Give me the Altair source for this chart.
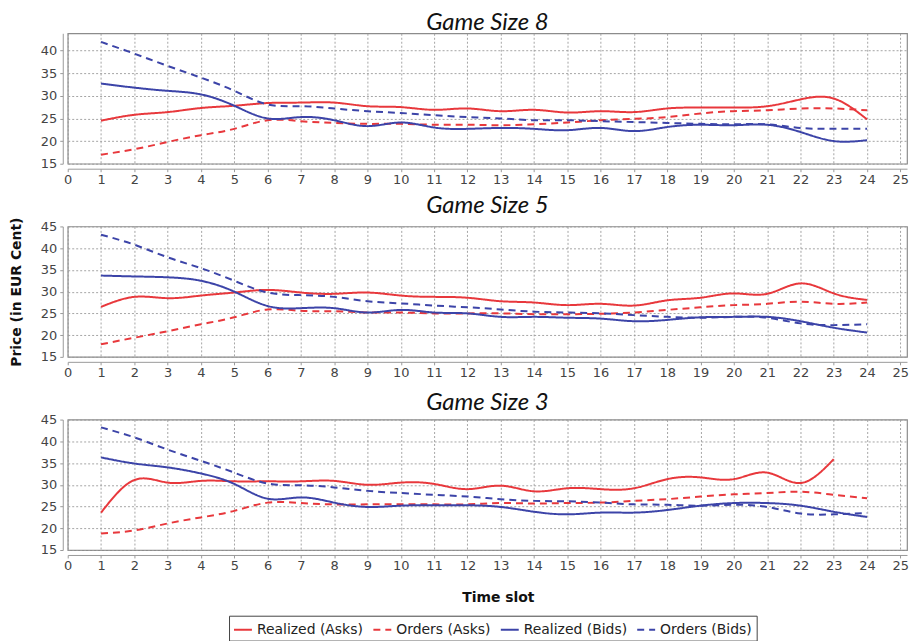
import altair as alt
import pandas as pd

time_slots = list(range(1, 25))
series_names = ["Realized (Asks)", "Orders (Asks)", "Realized (Bids)", "Orders (Bids)"]
panel_titles = ["Game Size 8", "Game Size 5", "Game Size 3"]

# Game Size 8
gs8_realized_asks = [24.5, 25.8, 26.4, 27.3, 27.8, 28.4, 28.5, 28.5, 27.7, 27.5, 26.9, 27.2,
                     26.6, 26.9, 26.3, 26.6, 26.4, 27.2, 27.4, 27.4, 27.7, 29.2, 29.4, 24.8]
gs8_orders_asks = [17.0, 18.2, 19.8, 21.3, 22.7, 24.6, 24.4, 24.0, 23.8, 23.8, 23.6, 23.6,
                   23.5, 23.7, 24.1, 24.6, 24.9, 25.3, 26.1, 26.6, 26.8, 27.2, 27.2, 26.8]
gs8_realized_bids = [32.7, 31.8, 31.1, 30.3, 27.8, 25.0, 25.3, 24.6, 23.3, 24.1, 23.0, 22.7,
                     22.9, 22.7, 22.4, 22.9, 22.2, 23.1, 23.6, 23.5, 23.6, 22.0, 20.0, 20.2]
gs8_orders_bids = [41.9, 39.3, 36.6, 34.0, 31.1, 28.1, 27.7, 27.2, 26.6, 26.2, 25.7, 25.3,
                   25.0, 24.6, 24.6, 24.4, 24.2, 24.0, 23.8, 23.7, 23.7, 22.9, 22.7, 22.7]

# Game Size 5
gs5_realized_asks = [26.5, 28.8, 28.5, 29.1, 29.8, 30.4, 29.8, 29.5, 29.8, 29.1, 28.8, 28.6,
                     27.8, 27.5, 26.9, 27.2, 26.8, 28.0, 28.6, 29.6, 29.5, 31.9, 29.6, 28.1]
gs5_orders_asks = [17.9, 19.4, 20.9, 22.5, 24.1, 25.9, 25.6, 25.5, 25.2, 25.2, 25.0, 25.0,
                   25.0, 24.8, 24.8, 24.9, 25.2, 25.8, 26.4, 26.9, 27.2, 27.7, 27.2, 27.5]
gs5_realized_bids = [33.7, 33.5, 33.3, 32.5, 30.0, 26.7, 26.2, 26.2, 25.2, 25.8, 25.2, 25.0,
                     24.2, 24.2, 24.0, 23.8, 23.2, 23.5, 24.1, 24.2, 24.2, 23.2, 21.7, 20.6]
gs5_orders_bids = [43.1, 40.8, 37.9, 35.4, 32.5, 29.8, 29.2, 28.8, 27.8, 27.3, 26.8, 26.4,
                   25.9, 25.4, 25.2, 25.0, 24.6, 24.2, 24.0, 24.2, 24.0, 22.7, 22.3, 22.5]

# Game Size 3
gs3_realized_asks = [23.6, 31.1, 30.5, 30.9, 30.8, 30.8, 30.8, 30.9, 30.0, 30.5, 30.2, 29.0,
                     29.8, 28.5, 29.2, 29.0, 29.2, 31.3, 31.7, 31.3, 32.8, 30.4, 35.9]
gs3_orders_asks = [18.8, 19.5, 21.1, 22.5, 24.0, 25.9, 25.8, 25.5, 25.5, 25.5, 25.5, 25.5,
                   25.8, 25.7, 25.8, 25.9, 26.3, 26.7, 27.3, 27.8, 28.1, 28.4, 27.7, 26.9]
gs3_realized_bids = [36.3, 34.9, 34.0, 32.6, 30.2, 26.8, 27.1, 25.9, 24.9, 25.2, 25.3, 25.3,
                     24.9, 23.8, 23.2, 23.6, 23.6, 24.2, 25.2, 25.8, 25.8, 25.2, 23.8, 22.6]
gs3_orders_bids = [43.2, 40.9, 38.1, 35.5, 32.8, 30.3, 29.9, 29.4, 28.6, 28.1, 27.7, 27.3,
                   26.7, 26.3, 26.2, 25.9, 25.5, 25.4, 25.2, 25.4, 24.9, 23.4, 23.2, 23.5]

panel_series = [
    [gs8_realized_asks, gs8_orders_asks, gs8_realized_bids, gs8_orders_bids],
    [gs5_realized_asks, gs5_orders_asks, gs5_realized_bids, gs5_orders_bids],
    [gs3_realized_asks, gs3_orders_asks, gs3_realized_bids, gs3_orders_bids],
]
y_domains = [[15, 43.8], [15, 45], [15, 45]]
y_ticks = [[15, 20, 25, 30, 35, 40], [15, 20, 25, 30, 35, 40, 45], [15, 20, 25, 30, 35, 40, 45]]

RED = "#e8383c"
BLUE = "#3c44a8"
LABEL_FONT = "DejaVu Sans"

legend = alt.Legend(
    title=None, orient="none", legendX=162, legendY=585, direction="horizontal",
    columns=4, columnPadding=6, strokeColor="#444", padding=4,
    labelFont=LABEL_FONT, labelFontSize=14, labelColor="#222", labelLimit=200,
    symbolType="stroke", symbolSize=324, symbolStrokeWidth=2, labelOffset=4,
)


def make_panel(i):
    rows = []
    for name, vals in zip(series_names, panel_series[i]):
        for t, v in zip(time_slots, vals):
            rows.append({"t": t, "value": v, "series": name})
    df = pd.DataFrame(rows)
    last = i == 2
    mid = i == 1
    x_axis = alt.Axis(
        values=list(range(0, 26)), format="d", offset=5, tickSize=3, labelPadding=2,
        labelFont=LABEL_FONT, labelFontSize=13, labelColor="#444", labelFlush=False,
        domainColor="#999", tickColor="#999",
        grid=True, gridDash=[2, 2], gridColor="#9a9a9a", gridOpacity=0.9,
        title="Time slot" if last else None,
        titleFont=LABEL_FONT, titleFontSize=14, titleFontWeight="bold", titleColor="#111",
        titlePadding=18, titleX=432,
    )
    y_axis = alt.Axis(
        values=y_ticks[i], offset=5, tickSize=3, labelPadding=3,
        labelFont=LABEL_FONT, labelFontSize=13, labelColor="#444",
        domainColor="#999", tickColor="#999",
        grid=True, gridDash=[2, 2], gridColor="#9a9a9a", gridOpacity=0.9,
        title="Price (in EUR Cent)" if mid else None,
        titleFont=LABEL_FONT, titleFontSize=14, titleFontWeight="bold", titleColor="#111",
        titlePadding=17,
    )
    return alt.Chart(df).mark_line(strokeWidth=2, interpolate="natural").encode(
        x=alt.X("t:Q", scale=alt.Scale(domain=[0, 25.2], nice=False, zero=False), axis=x_axis),
        y=alt.Y("value:Q", scale=alt.Scale(domain=y_domains[i], nice=False, zero=False), axis=y_axis),
        color=alt.Color("series:N", scale=alt.Scale(domain=series_names, range=[RED, RED, BLUE, BLUE]),
                        legend=legend),
        strokeDash=alt.StrokeDash("series:N", scale=alt.Scale(domain=series_names,
                                  range=[[1, 0], [7, 5], [1, 0], [7, 5]]), legend=legend),
    ).properties(
        width=843, height=131,
        title=alt.TitleParams(panel_titles[i], font="Lato", fontSize=24, fontStyle="italic",
                              fontWeight="normal", color="#111", anchor="middle", frame="group",
                              offset=-1.5),
    )


chart = alt.vconcat(make_panel(0), make_panel(1), make_panel(2), spacing=63, bounds="flush").properties(
    padding={"left": 0, "top": 0, "right": 0, "bottom": 0}
).configure_view(stroke="#8c8c8c", strokeWidth=1.2)

chart.save("out.html", embed_options={"renderer": "svg", "actions": False})
